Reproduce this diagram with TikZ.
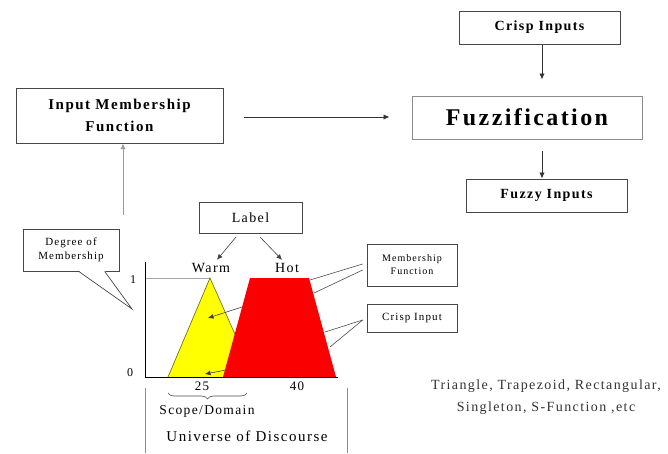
\documentclass[tikz,border=0pt]{standalone}
\usepackage{fontspec}
\setmainfont{Liberation Serif}
\newfontfamily\spfont[LetterSpace=10]{Liberation Serif}
\usetikzlibrary{arrows.meta,decorations.pathreplacing,calc}
\definecolor{boxline}{RGB}{70,70,70}
\definecolor{yel}{RGB}{255,255,0}
\definecolor{red1}{RGB}{250,0,0}
\tikzset{
  topbox/.style={draw=boxline,line width=1pt,rectangle,inner sep=0pt,align=center,fill=white},
  smallbox/.style={draw=boxline,line width=0.7pt,rectangle,inner sep=0pt,align=center,fill=white},
  arr/.style={draw=black!80,line width=0.9pt,-{Latex[length=6pt,width=5.5pt]}},
  thin/.style={draw=black!70,line width=0.6pt},
  sarr/.style={draw=black!75,line width=0.6pt,-{Latex[length=5.5pt,width=5pt]}},
  bigtxt/.style={font=\spfont\bfseries\fontsize{14}{17}\selectfont},
}
\begin{document}
\begin{tikzpicture}[x=1pt,y=-1pt]
\useasboundingbox (0,0) rectangle (668,453);
% top boxes
\node[topbox,bigtxt,minimum width=161pt,minimum height=33pt] (crisp) at (539.5,27.5) {Crisp Inputs};
\node[topbox,draw=black!45,minimum width=230pt,minimum height=43pt,font=\spfont\bfseries\fontsize{24}{28}\selectfont] (fuzz) at (527,117.5) {Fuzzification};
\node[topbox,bigtxt,minimum width=161pt,minimum height=33pt] (fuzzy) at (546.5,195.5) {Fuzzy Inputs};
\node[topbox,minimum width=207pt,minimum height=55pt,font=\spfont\bfseries\fontsize{15}{22}\selectfont] (imf) at (119.5,115.5) {Input Membership\\Function};
\draw[arr] (crisp.south -| 542,0) -- ($(fuzz.north -| 542,0)+(0,-16)$);
\draw[arr,shorten <=11pt] (fuzz.south -| 542,0) -- (fuzzy.north -| 542,0);
\draw[arr,shorten <=20pt,shorten >=22pt] (imf.east |- 0,117) -- (fuzz.west |- 0,117);
\coordinate (imfstart) at (123,215);
\draw[draw=black!40,line width=0.8pt,-{Latex[length=5.5pt,width=5pt]}] (imfstart) -- (imf.south -| imfstart);
% label
\node[smallbox,minimum width=103pt,minimum height=31pt,font=\spfont\fontsize{14}{16}\selectfont] (label) at (250.5,217.5) {Label};
\node[font=\spfont\fontsize{14}{16}\selectfont] (warm) at (211,268) {Warm};
\node[font=\spfont\fontsize{14}{16}\selectfont] (hot) at (287,268) {Hot};
\draw[sarr] (236,237) -- (warm.north -| 217,0);
\draw[sarr] (260,237) -- (hot.north -| 282,0);
% chart
\draw[line width=0.5pt,black!35] (145,278) -- (210,278);
\fill[yel] (168,377) -- (210,278) -- (254,377) -- cycle;
\draw[line width=0.7pt,olive!80!black] (168,377) -- (210,278) -- (254,377);
\coordinate (mftip) at (208,318);
\coordinate (citip) at (205,374);
\draw[sarr] (242,307) -- (mftip);
\draw[sarr] (226,370) -- (citip);
\fill[red1] (223,377) -- (250,278) -- (309,278) -- (336,377) -- cycle;
\draw[line width=1pt,black] (145,262) -- (145,377) -- (338,377);
\node[font=\fontsize{12}{14}\selectfont] (one) at (133,280) {1};
\node[font=\fontsize{12}{14}\selectfont] (zero) at (130,373) {0};
\node[font=\spfont\fontsize{13}{15}\selectfont] (t25) at (202,386) {25};
\node[font=\spfont\fontsize{13}{15}\selectfont] (t40) at (297,386) {40};
\draw[line width=0.6pt,black!70,decorate,decoration={brace,mirror,amplitude=6pt}] (168,393) -- (247,393);
\node[font=\spfont\fontsize{13.5}{15}\selectfont] (scope) at (207,411) {Scope/Domain};
\draw[line width=0.6pt,black!45] (145,388) -- (145,453);
\draw[line width=0.6pt,black!45] (347,388) -- (347,453);
\node[font=\spfont\fontsize{15}{17}\selectfont] (uod) at (247,436) {Universe of Discourse};
% degree of membership callout
\node[smallbox,minimum width=96pt,minimum height=42pt,font=\spfont\fontsize{11}{14}\selectfont] (dom) at (71,250) {Degree of\\Membership};
\coordinate (domtip) at (132,309);
\fill[white] (79,271) -- (domtip) -- (105,271) -- cycle;
\draw[line width=0.7pt,boxline] ($(dom.south west)+(56,0)$) -- (domtip) -- ($(dom.south west)+(82,0)$);
\draw[white,line width=1.2pt] ($(dom.south west)+(57,0)$) -- ($(dom.south west)+(81,0)$);
% right callouts
\node[smallbox,minimum width=90pt,minimum height=42pt,font=\spfont\fontsize{10}{13}\selectfont] (mf) at (412,265) {Membership\\Function};
\node[smallbox,minimum width=90pt,minimum height=28pt,font=\spfont\fontsize{11}{13}\selectfont] (ci) at (412,318) {Crisp Input};
\draw[thin] ($(mf.west)+(-4,-1)$) -- (310,280);
\draw[thin] ($(mf.west)+(-4,5)$) -- (314,293);
\draw[thin] ($(ci.west)+(-4,2)$) -- (325,332);
\draw[thin] ($(ci.west)+(-4,2)$) -- (330,347);
% types text
\node[font=\spfont\fontsize{14}{22}\selectfont,align=center,text=black!80] (types) at (546,397) {Triangle, Trapezoid, Rectangular,\\Singleton, S-Function ,etc};
\end{tikzpicture}
\end{document}
